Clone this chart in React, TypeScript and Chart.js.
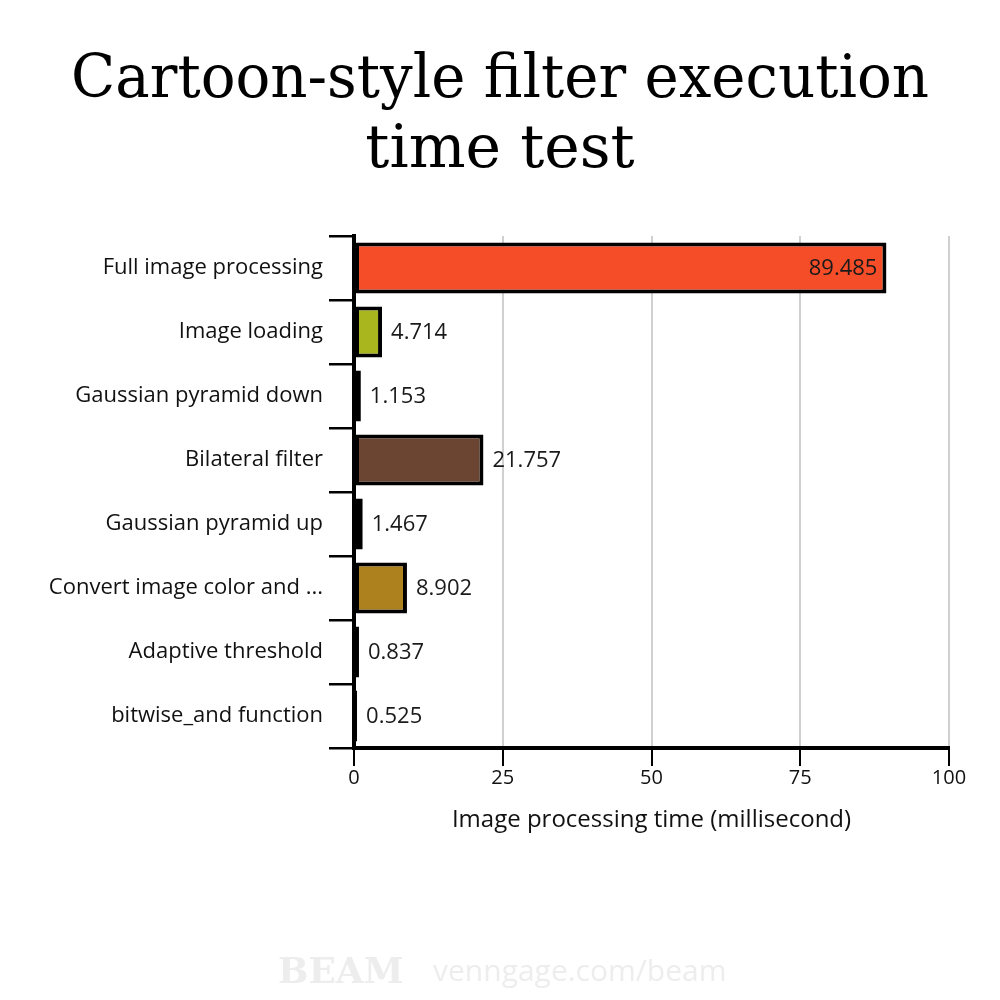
import React, { useEffect, useRef } from "react";
import { Chart, registerables } from "chart.js";

Chart.register(...registerables);

const categories = [
  "Full image processing",
  "Image loading",
  "Gaussian pyramid down",
  "Bilateral filter",
  "Gaussian pyramid up",
  "Convert image color and ...",
  "Adaptive threshold",
  "bitwise_and function",
];
const values = [89.485, 4.714, 1.153, 21.757, 1.467, 8.902, 0.837, 0.525];
const valueLabels = ["89.485", "4.714", "1.153", "21.757", "1.467", "8.902", "0.837", "0.525"];
const barColors = ["#F54D28", "#A9B61E", "#2b2b2b", "#6B4531", "#F07A21", "#AD821E", "#222222", "#222222"];
const xTicks = [0, 25, 50, 75, 100];
const titleLines = ["Cartoon-style filter execution", "time test"];
const xAxisTitle = "Image processing time (millisecond)";
const watermarkBrand = "BEAM";
const watermarkUrl = "venngage.com/beam";

const overlayPlugin = {
  id: "overlay",
  afterDatasetsDraw(chart: any) {
    const ctx = chart.ctx;
    const meta = chart.getDatasetMeta(0);
    ctx.save();
    ctx.font = "22px 'Open Sans'";
    ctx.fillStyle = "#1a1a1a";
    ctx.textBaseline = "middle";
    meta.data.forEach((bar: any, i: number) => {
      const inside = values[i] > 50;
      if (inside) {
        ctx.textAlign = "right";
        ctx.fillText(valueLabels[i], bar.x - 9, bar.y + 1);
      } else {
        ctx.textAlign = "left";
        ctx.fillText(valueLabels[i], bar.x + 9, bar.y + 1);
      }
    });
    ctx.restore();
  },
  afterDraw(chart: any) {
    const ctx = chart.ctx;
    ctx.save();
    ctx.fillStyle = "#000";
    ctx.textAlign = "center";
    ctx.textBaseline = "alphabetic";
    ctx.font = "60px 'DejaVu Serif'";
    ctx.fillText(titleLines[0], 500, 97, 858);
    ctx.fillText(titleLines[1], 500, 167, 858);
    // watermark
    ctx.fillStyle = "#ededed";
    ctx.textAlign = "left";
    ctx.font = "bold 36px 'DejaVu Serif'";
    ctx.fillText(watermarkBrand, 278, 983, 128);
    ctx.font = "30px 'Open Sans'";
    ctx.fillText(watermarkUrl, 433, 981);
    ctx.restore();
  },
};

export default function App() {
  const ref = useRef<HTMLCanvasElement>(null);
  useEffect(() => {
    if (!ref.current) return;
    const chart = new Chart(ref.current, {
      type: "bar",
      data: {
        labels: categories,
        datasets: [
          {
            data: values,
            backgroundColor: barColors,
            borderColor: "#000",
            borderWidth: 4,
            borderSkipped: false,
            barPercentage: 0.8,
            categoryPercentage: 1,
          },
        ],
      },
      options: {
        indexAxis: "y",
        animation: false,
        responsive: false,
        maintainAspectRatio: false,
        layout: { padding: { top: 236, left: 0, right: 51, bottom: 152 } },
        plugins: {
          legend: { display: false },
          title: { display: false },
          tooltip: { enabled: false },
        },
        scales: {
          x: {
            type: "linear",
            min: 0,
            max: 100,
            afterBuildTicks: (scale: any) => {
              scale.ticks = xTicks.map((v) => ({ value: v }));
            },
            afterFit: (scale: any) => {
              scale.height = 100;
            },
            border: { display: true, color: "#000", width: 4 },
            grid: {
              color: "#d0d0d0",
              lineWidth: 2,
              tickColor: "#000",
              tickLength: 18,
              drawTicks: true,
            },
            ticks: {
              color: "#111",
              font: { family: "'Open Sans'", size: 20 },
              padding: 0,
            },
            title: {
              display: true,
              text: xAxisTitle,
              color: "#111",
              font: { family: "'Open Sans'", size: 24 },
              padding: { top: 4, bottom: 13 },
            },
          },
          y: {
            afterFit: (scale: any) => {
              scale.width = 354;
            },
            border: { display: true, color: "#000", width: 4 },
            grid: {
              drawOnChartArea: false,
              offset: true,
              color: "#000",
              lineWidth: 2.5,
              tickLength: 25,
            },
            ticks: {
              color: "#111",
              font: { family: "'Open Sans'", size: 22 },
              padding: 6,
            },
          },
        },
      },
      plugins: [overlayPlugin],
    });
    return () => chart.destroy();
  }, []);
  return (
    <div style={{ position: "absolute", left: 0, top: 0, width: 1000, height: 1000, background: "#fff" }}>
      <canvas ref={ref} width={1000} height={1000} />
    </div>
  );
}
